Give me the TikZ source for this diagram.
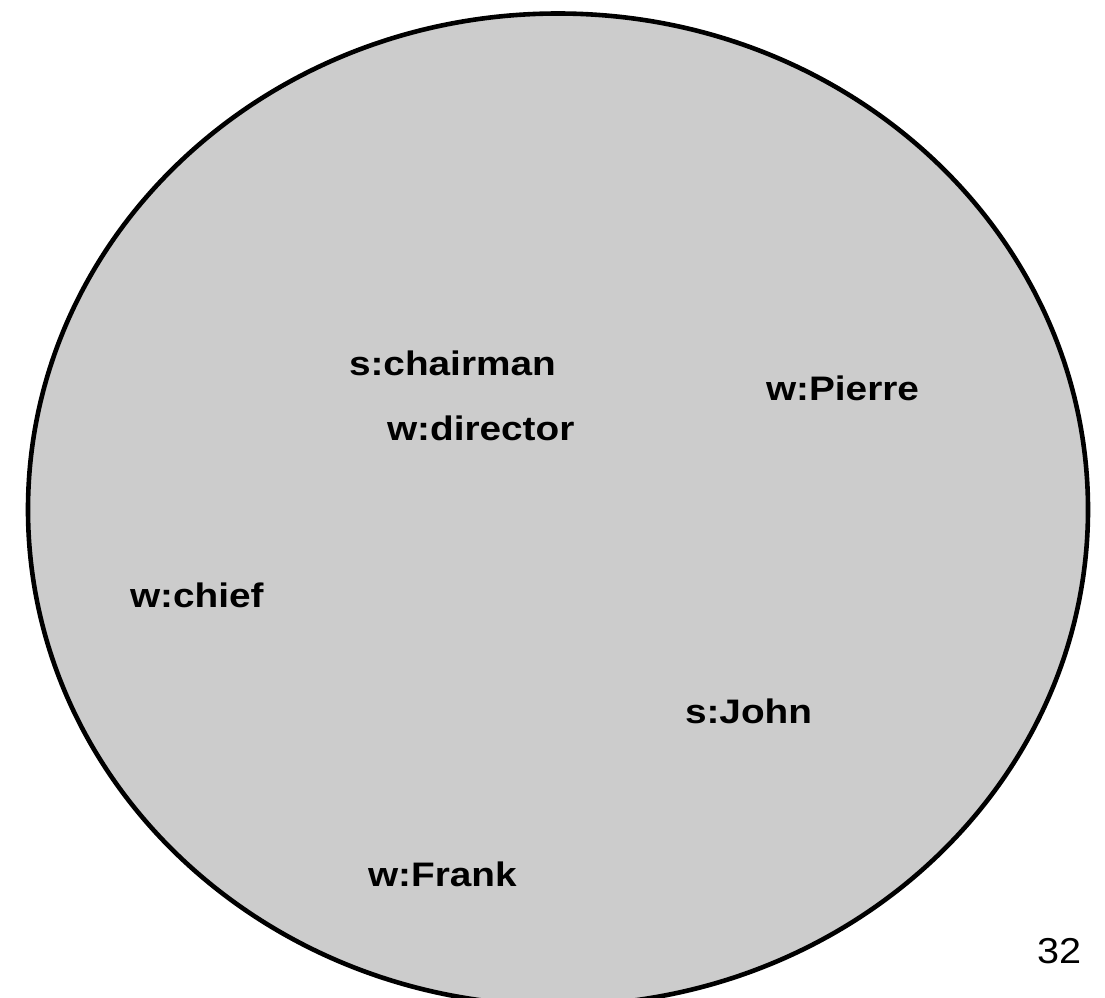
\documentclass[tikz,border=0pt]{standalone}
\usepackage{fontspec}
\newfontfamily\lblfont[FakeStretch=1.14]{Liberation Sans}
\newfontfamily\numfont[FakeStretch=1.1]{Liberation Sans}
\definecolor{discgray}{HTML}{CCCCCC}
\tikzset{
  lbl/.style={anchor=base west, inner sep=0pt, outer sep=0pt, font=\lblfont\bfseries\fontsize{34}{37}\selectfont, text=black},
  pagenum/.style={anchor=base west, inner sep=0pt, outer sep=0pt, font=\numfont\fontsize{36}{40}\selectfont, text=black},
  disc/.style={draw=black, line width=4.6pt, fill=discgray}
}
\begin{document}
\begin{tikzpicture}[x=1pt,y=-1pt]
\useasboundingbox (0,0) rectangle (1105,997);
\fill[white] (0,0) rectangle (1105,997);
\clip (0,0) rectangle (1105,997);
\draw[disc] (558,509.5) ellipse [x radius=530pt, y radius=496pt];
\node[lbl] (chairman) at (349,375) {s:chairman};
\node[lbl] (director) at (387,440) {w:director};
\node[lbl] (pierre) at (766,400) {w:Pierre};
\node[lbl] (chief) at (130,607) {w:chief};
\node[lbl] (john) at (685,723) {s:John};
\node[lbl] (frank) at (368,886) {w:Frank};
\node[pagenum] (page) at (1037,963) {32};
\end{tikzpicture}
\end{document}
